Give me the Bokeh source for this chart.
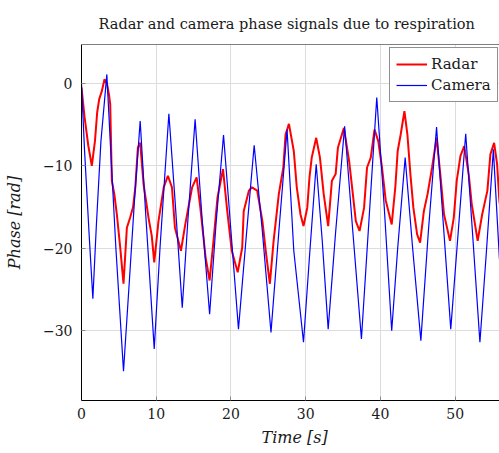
from bokeh.plotting import figure
from bokeh.models import FixedTicker, Range1d, Legend, LegendItem, Title, Span
from bokeh.embed import file_html
from bokeh.resources import INLINE

title_text = "Radar and camera phase signals due to respiration"
x_label = "Time [s]"
y_label = "Phase [rad]"
series_names = ["Radar", "Camera"]
x_ticks = [0, 10, 20, 30, 40, 50]
y_ticks = [-30, -20, -10, 0]
y_tick_labels = ["\u221230", "\u221220", "\u221210", "0"]

radar_t = [0.0, 0.4, 0.9, 1.38, 1.8, 2.1, 2.37, 2.7, 3.08, 3.4, 3.7, 3.84, 4.06, 4.4,
           4.73, 5.18, 5.62, 6.07, 6.5, 6.9, 7.2, 7.54, 7.85, 8.3, 8.97, 9.4, 9.73,
           10.3, 11.0, 11.56, 12.1, 12.5, 13.3, 13.9, 14.8, 15.4, 15.9, 16.6, 17.14,
           17.7, 18.2, 18.93, 19.5, 20.1, 20.9, 21.5, 21.7, 22.4, 22.8, 23.5, 24.2,
           24.7, 25.2, 25.7, 26.4, 27.0, 27.3, 27.75, 28.4, 28.8, 29.3, 29.7, 30.2,
           30.5, 30.8, 31.4, 31.9, 32.4, 33.0, 33.5, 34.0, 34.3, 35.1, 35.8, 36.2,
           36.7, 37.2, 37.8, 38.2, 38.7, 39.2, 39.7, 40.2, 40.7, 41.5, 41.99, 42.3,
           42.7, 43.2, 43.6, 44.0, 44.4, 44.9, 45.3, 45.8, 46.3, 46.9, 47.5, 48.0,
           48.5, 49.3, 49.8, 50.2, 50.7, 51.2, 51.8, 52.2, 53.0, 53.6, 54.3, 54.7,
           55.2, 55.6, 55.9, 56.3]
radar_phase = [-0.5, -4.0, -7.5, -10.0, -7.0, -3.5, -1.9, -1.0, 0.5, 0.0, -1.5, -2.5,
               -11.8, -13.5, -15.9, -19.9, -24.3, -17.5, -16.3, -15.0, -12.6, -7.8,
               -7.2, -12.2, -16.3, -18.5, -21.7, -16.7, -12.6, -11.2, -12.6, -17.5,
               -20.3, -17.0, -12.6, -11.4, -15.1, -21.1, -23.9, -18.7, -13.8, -10.4,
               -15.5, -20.3, -22.9, -19.9, -15.5, -13.0, -12.6, -13.0, -16.7, -20.7,
               -24.3, -19.1, -13.4, -10.2, -6.2, -4.9, -8.2, -12.6, -15.9, -17.3,
               -15.1, -11.4, -9.0, -6.6, -9.0, -13.4, -17.3, -11.8, -11.0, -7.8, -5.4,
               -9.4, -12.6, -16.7, -17.9, -15.1, -10.2, -9.0, -5.6, -7.0, -10.2, -14.2,
               -17.1, -12.5, -8.2, -6.2, -3.35, -6.2, -11.0, -15.1, -18.3, -19.3,
               -15.5, -13.4, -10.2, -6.6, -11.0, -15.9, -19.1, -16.3, -11.8, -8.8,
               -7.6, -11.0, -14.6, -19.1, -15.9, -13.0, -8.6, -7.2, -9.8, -14.2, -17.0]

camera_t = [0.0, 0.4, 1.0, 1.52, 2.0, 2.6, 3.39, 3.9, 4.6, 5.62, 6.4, 7.1, 7.85, 8.6,
            9.73, 10.5, 11.69, 12.5, 13.48, 14.2, 15.2, 16.1, 17.14, 18.0, 19.0, 20.0,
            21.0, 22.0, 23.1, 24.2, 25.35, 26.4, 27.5, 28.4, 29.7, 30.5, 31.4, 32.2,
            33.0, 34.0, 35.2, 36.3, 37.45, 38.5, 39.5, 40.5, 41.5, 42.3, 43.3, 44.3,
            45.4, 46.4, 47.5, 48.4, 49.4, 50.4, 51.4, 52.3, 53.3, 54.2, 55.1, 55.9,
            56.3]
camera_phase = [0.0, -8.0, -18.0, -26.1, -17.0, -7.0, 1.09, -8.0, -20.0, -34.9, -24.0,
                -14.0, -4.56, -16.0, -32.2, -20.0, -3.67, -14.0, -27.2, -17.0, -4.36,
                -16.0, -28.0, -17.0, -6.25, -18.0, -29.8, -19.0, -7.5, -18.0, -30.2,
                -18.0, -5.6, -20.3, -31.4, -21.0, -9.8, -19.0, -29.8, -18.0, -5.2,
                -18.0, -31.0, -16.0, -1.7, -15.0, -30.0, -20.0, -9.0, -20.0, -31.2,
                -18.0, -5.3, -17.0, -29.8, -18.0, -6.1, -18.0, -31.4, -20.0, -8.0,
                -21.1, -26.0]

SERIF = "DejaVu Serif"
TEXT = "#1a1a1a"
X_MAX = 55.92
Y_MIN, Y_MAX = -38.46, 4.72

p = figure(width=499, height=453, output_backend="svg", toolbar_location=None,
           x_range=Range1d(0, X_MAX), y_range=Range1d(Y_MIN, Y_MAX),
           min_border_left=81, min_border_right=0, min_border_top=43,
           min_border_bottom=53)

p.title.text = title_text
p.title.align = "left"
p.title.offset = 17
p.title.text_font = SERIF
p.title.text_font_style = "normal"
p.title.text_font_size = "14.5px"
p.title.text_line_height = 1.0
p.title.text_color = TEXT
p.title.standoff = 26

p.outline_line_color = None
p.background_fill_color = "white"
p.border_fill_color = "white"

for ax, ticks in ((p.xaxis[0], x_ticks), (p.yaxis[0], y_ticks)):
    ax.ticker = FixedTicker(ticks=ticks)
    ax.axis_line_color = "black"
    ax.axis_line_width = 1
    ax.major_tick_in = 4
    ax.major_tick_out = 0
    ax.major_tick_line_color = "#8a8a8a"
    ax.minor_tick_line_color = None
    ax.major_label_text_font = SERIF
    ax.major_label_text_font_size = "14px"
    ax.major_label_text_color = TEXT
    ax.axis_label_text_font = SERIF
    ax.axis_label_text_font_style = "italic"
    ax.axis_label_text_font_size = "16px"
    ax.axis_label_text_color = TEXT

p.yaxis[0].axis_label = y_label
p.yaxis[0].major_label_overrides = dict(zip(y_ticks, y_tick_labels))
p.yaxis[0].major_label_standoff = 9
p.yaxis[0].axis_label_standoff = 16
p.xaxis[0].major_label_standoff = 7

x_title = Title(text=x_label, align="left", offset=180, text_font=SERIF,
                text_font_style="italic", text_font_size="16px", text_color=TEXT,
                standoff=9)
p.add_layout(x_title, "below")

top_border = Span(location=Y_MAX, dimension="width", line_color="black", line_width=1)
p.add_layout(top_border)

p.xgrid.ticker = FixedTicker(ticks=x_ticks)
p.ygrid.ticker = FixedTicker(ticks=y_ticks)
for g in (p.xgrid[0], p.ygrid[0]):
    g.grid_line_color = "#dcdcdc"
    g.grid_line_width = 1

r_radar = p.line(radar_t, radar_phase, line_color="#ff0000", line_width=2.0)
r_camera = p.line(camera_t, camera_phase, line_color="#0000ff", line_width=1.2)

legend = Legend(items=[LegendItem(label=series_names[0], renderers=[r_radar]),
                       LegendItem(label=series_names[1], renderers=[r_camera])],
                location=(308, 298), orientation="vertical",
                label_text_font=SERIF, label_text_font_size="15px",
                label_text_color=TEXT,
                glyph_width=31, glyph_height=20, label_height=20,
                label_standoff=4, padding=6, spacing=1, margin=0,
                border_line_color="#222222", border_line_width=1,
                background_fill_color="white", background_fill_alpha=1.0)
p.add_layout(legend)

open("out.html", "w").write(file_html(p, INLINE))
